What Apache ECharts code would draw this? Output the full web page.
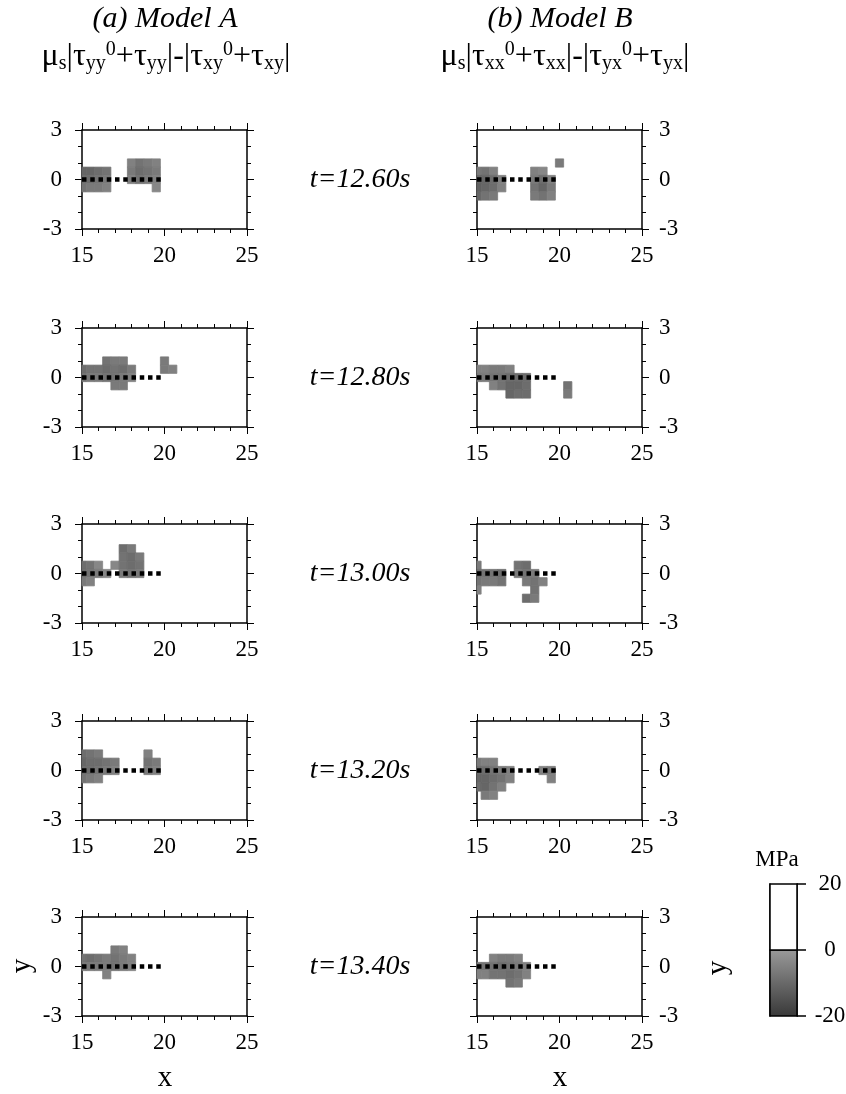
<!DOCTYPE html>
<html>
<head>
<meta charset="utf-8">
<script src="https://cdn.jsdelivr.net/npm/echarts@6/dist/echarts.min.js"></script>
<style>html,body{margin:0;padding:0;background:#fff}#c{width:846px;height:1094px}</style>
</head>
<body>
<div id="c"></div>
<script>
// ---------- data ----------
const xTicks = [15, 20, 25];
const yTicks = [-3, 0, 3];
const times = ['t=12.60s', 't=12.80s', 't=13.00s', 't=13.20s', 't=13.40s'];
const faultLine = [[15, 0], [20, 0]];
const cbBands = [[-20, 0], [0, 20]];
const cbTicks = [-20, 0, 20];

// cells: [x centre, y centre, stress change (MPa)]
const a1260 = [
 [15,0.5,-13],[15.5,0.5,-13],[16,0.5,-12],[16.5,0.5,-11],
 [15,0,-12],[15.5,0,-12],[16,0,-11],[16.5,0,-10],
 [15,-0.5,-11],[15.5,-0.5,-10],[16,-0.5,-10],[16.5,-0.5,-9],
 [18,1,-9],[18.5,1,-11],[19,1,-10],[19.5,1,-9],
 [18,0.5,-10],[18.5,0.5,-12],[19,0.5,-11],[19.5,0.5,-10],
 [18,0,-9],[18.5,0,-11],[19,0,-10],[19.5,0,-9],
 [19.5,-0.5,-8]
];
const b1260 = [
 [15,0.5,-10],[15.5,0.5,-11],[16,0.5,-9],
 [15,0,-13],[15.5,0,-13],[16,0,-12],[16.5,0,-9],
 [15,-0.5,-14],[15.5,-0.5,-13],[16,-0.5,-12],[16.5,-0.5,-9],
 [15,-1,-13],[15.5,-1,-11],[16,-1,-10],
 [18.5,0.5,-9],[19,0.5,-8],
 [18.5,0,-10],[19,0,-12],[19.5,0,-9],
 [18.5,-0.5,-11],[19,-0.5,-13],[19.5,-0.5,-10],
 [18.5,-1,-10],[19,-1,-11],[19.5,-1,-9],
 [20,1,-10]
];
const a1280 = [
 [16.5,1,-11],[17,1,-10],[17.5,1,-10],
 [15,0.5,-12],[15.5,0.5,-11],[16,0.5,-11],[16.5,0.5,-12],[17,0.5,-11],[17.5,0.5,-12],[18,0.5,-10],
 [15,0,-11],[15.5,0,-10],[16,0,-10],[16.5,0,-11],[17,0,-11],[17.5,0,-10],[18,0,-9],
 [17,-0.5,-10],[17.5,-0.5,-10],
 [20,1,-10],[20,0.5,-10],[20.5,0.5,-9]
];
const b1280 = [
 [15,0.5,-9],[15.5,0.5,-9],[16,0.5,-10],[16.5,0.5,-10],[17,0.5,-9],
 [15,0,-10],[15.5,0,-10],[16,0,-11],[16.5,0,-11],[17,0,-12],[17.5,0,-12],[18,0,-12],
 [16,-0.5,-9],[16.5,-0.5,-11],[17,-0.5,-13],[17.5,-0.5,-13],[18,-0.5,-12],
 [17,-1,-13],[17.5,-1,-12],[18,-1,-12],
 [20.5,-0.5,-11],[20.5,-1,-10]
];
const a1300 = [
 [17.5,1.5,-12],[18,1.5,-10],
 [17.5,1,-11],[18,1,-12],[18.5,1,-10],
 [17,0.5,-8],[17.5,0.5,-11],[18,0.5,-12],[18.5,0.5,-11],
 [17.5,0,-10],[18,0,-11],[18.5,0,-10],
 [15,0.5,-12],[15.5,0.5,-11],[16,0.5,-8],
 [15,0,-12],[15.5,0,-11],[16,0,-10],[16.5,0,-8],
 [15,-0.5,-10],[15.5,-0.5,-9]
];
const b1300 = [
 [15,0.5,-10],
 [15,0,-12],[15.5,0,-11],[16,0,-11],[16.5,0,-12],
 [15,-0.5,-11],[15.5,-0.5,-10],[16,-0.5,-10],[16.5,-0.5,-11],
 [15,-1,-9],
 [17.5,0.5,-11],[18,0.5,-12],
 [17.5,0,-10],[18,0,-11],[18.5,0,-10],
 [18,-0.5,-10],[18.5,-0.5,-11],[19,-0.5,-9],
 [18.5,-1,-11],
 [18,-1.5,-12],[18.5,-1.5,-10]
];
const a1320 = [
 [15,1,-12],[15.5,1,-11],[16,1,-10],
 [15,0.5,-13],[15.5,0.5,-12],[16,0.5,-12],[16.5,0.5,-11],[17,0.5,-10],
 [15,0,-12],[15.5,0,-12],[16,0,-11],[16.5,0,-10],[17,0,-9],
 [15,-0.5,-11],[15.5,-0.5,-10],[16,-0.5,-9],
 [19,1,-9],
 [19,0.5,-11],[19.5,0.5,-10],
 [19,0,-10],[19.5,0,-9]
];
const b1320 = [
 [15,0.5,-10],[15.5,0.5,-9],[16,0.5,-9],
 [15,0,-12],[15.5,0,-12],[16,0,-11],[16.5,0,-10],[17,0,-9],
 [15,-0.5,-13],[15.5,-0.5,-13],[16,-0.5,-12],[16.5,-0.5,-11],[17,-0.5,-9],
 [15,-1,-12],[15.5,-1,-13],[16,-1,-11],[16.5,-1,-9],
 [15.5,-1.5,-10],[16,-1.5,-9],
 [19,0,-9],[19.5,0,-10],[19.5,-0.5,-9]
];
const a1340 = [
 [17,1,-10],[17.5,1,-9],
 [15,0.5,-11],[15.5,0.5,-12],[16,0.5,-11],[16.5,0.5,-10],[17,0.5,-11],[17.5,0.5,-10],[18,0.5,-9],
 [15,0,-10],[15.5,0,-10],[16,0,-10],[16.5,0,-10],[17,0,-11],[17.5,0,-10],[18,0,-9],
 [16.5,-0.5,-9]
];
const b1340 = [
 [16,0.5,-9],[16.5,0.5,-10],[17,0.5,-10],[17.5,0.5,-9],
 [15,0,-10],[15.5,0,-11],[16,0,-11],[16.5,0,-12],[17,0,-11],[17.5,0,-10],[18,0,-9],
 [15,-0.5,-9],[15.5,-0.5,-9],[16,-0.5,-11],[16.5,-0.5,-11],[17,-0.5,-12],[17.5,-0.5,-11],[18,-0.5,-9],
 [17,-1,-11],[17.5,-1,-10]
];
const modelA = [a1260, a1280, a1300, a1320, a1340];
const modelB = [b1260, b1280, b1300, b1320, b1340];

// ---------- layout / style ----------
const SERIF = '"Liberation Serif","DejaVu Serif",serif';
const GRAYS = ['#383838', '#bcbcbc'];
const HALF = 0.25; // half cell width in data units
const rowTops = [130, 328, 524, 721, 917];
const colLefts = [82, 477];
const PW = 165, PH = 99;
const NUM = 23;

const chart = echarts.init(document.getElementById('c'), null, {renderer: 'canvas'});

const grids = [], xAxes = [], yAxes = [], series = [], cellSeriesIdx = [];
const lineStyle = {color: '#000', width: 1.5};
function xAx(gi, pos, labels) {
  return {
    type: 'value', gridIndex: gi, position: pos, min: xTicks[0], max: xTicks[xTicks.length - 1],
    interval: xTicks[1] - xTicks[0],
    axisLine: {show: true, onZero: false, lineStyle},
    axisTick: {show: true, length: 7, lineStyle: {color: '#000', width: 1}},
    minorTick: {show: true, splitNumber: 5, length: 4, lineStyle: {color: '#000', width: 1}},
    splitLine: {show: false},
    axisLabel: {show: labels, fontFamily: SERIF, fontSize: NUM, color: '#000', margin: 15}
  };
}
function yAx(gi, pos, labels) {
  return {
    type: 'value', gridIndex: gi, position: pos, min: yTicks[0], max: yTicks[yTicks.length - 1],
    interval: yTicks[1] - yTicks[0],
    axisLine: {show: true, onZero: false, lineStyle},
    axisTick: {show: true, length: 7, lineStyle: {color: '#000', width: 1}},
    minorTick: {show: true, splitNumber: 3, length: 4, lineStyle: {color: '#000', width: 1}},
    splitLine: {show: false},
    axisLabel: {show: labels, fontFamily: SERIF, fontSize: NUM, color: '#000', margin: pos === 'left' ? 20 : 17}
  };
}
function renderCell(params, api) {
  const x = api.value(0), y = api.value(1);
  const p0 = api.coord([x - HALF, y + HALF]);
  const p1 = api.coord([x + HALF, y - HALF]);
  const cs = params.coordSys;
  const r = echarts.graphic.clipRectByRect(
    {x: p0[0], y: p0[1], width: p1[0] - p0[0], height: p1[1] - p0[1]},
    {x: cs.x, y: cs.y, width: cs.width, height: cs.height});
  const c = api.visual('color');
  return r && {type: 'rect', shape: r, style: {fill: c, stroke: c, lineWidth: 0.8}};
}

let gi = 0;
for (let row = 0; row < 5; row++) {
  for (let col = 0; col < 2; col++) {
    const data = col === 0 ? modelA[row] : modelB[row];
    grids.push({left: colLefts[col], top: rowTops[row], width: PW, height: PH, outerBoundsMode: 'none', containLabel: false});
    xAxes.push(xAx(gi, 'bottom', true));
    xAxes.push(xAx(gi, 'top', false));
    yAxes.push(yAx(gi, 'left', col === 0));
    yAxes.push(yAx(gi, 'right', col === 1));
    cellSeriesIdx.push(series.length);
    series.push({
      type: 'custom', xAxisIndex: 2 * gi, yAxisIndex: 2 * gi,
      renderItem: renderCell, data: data, encode: {x: 0, y: 1}, silent: true, z: 2
    });
    series.push({
      type: 'line', xAxisIndex: 2 * gi, yAxisIndex: 2 * gi, data: faultLine,
      symbol: 'none', silent: true, z: 3, animation: false,
      lineStyle: {color: '#000', width: 4.5, type: [4.5, 3.75], cap: 'butt'}
    });
    gi++;
  }
}

// colour bar
const cbGi = gi;
grids.push({left: 770, top: 884, width: 27, height: 132, outerBoundsMode: 'none', containLabel: false});
xAxes.push({type: 'value', gridIndex: cbGi, min: 0, max: 1, show: false});
xAxes.push({type: 'value', gridIndex: cbGi, min: 0, max: 1, show: false});
yAxes.push({type: 'value', gridIndex: cbGi, position: 'left', min: cbTicks[0], max: cbTicks[2], interval: 20,
  axisLine: {show: true, onZero: false, lineStyle}, axisTick: {show: false}, axisLabel: {show: false}, splitLine: {show: false}});
yAxes.push({type: 'value', gridIndex: cbGi, position: 'right', min: cbTicks[0], max: cbTicks[2], interval: 20,
  axisLine: {show: true, onZero: false, lineStyle},
  axisTick: {show: true, length: 9, lineStyle: {color: '#000', width: 1.5}},
  splitLine: {show: false},
  axisLabel: {fontFamily: SERIF, fontSize: NUM, color: '#000', margin: 33, align: 'center'}});
series.push({
  type: 'custom', xAxisIndex: 2 * cbGi, yAxisIndex: 2 * cbGi, data: cbBands, silent: true,
  encode: {y: [0, 1]},
  renderItem: function (params, api) {
    const lo = api.value(0), hi = api.value(1);
    const p0 = api.coord([0, hi]), p1 = api.coord([1, lo]);
    const fill = lo < 0 ? new echarts.graphic.LinearGradient(0, 0, 0, 1, [
      {offset: 0, color: '#9a9a9a'}, {offset: 1, color: GRAYS[0]}]) : '#fff';
    return {type: 'rect', shape: {x: p0[0], y: p0[1], width: p1[0] - p0[0], height: p1[1] - p0[1]},
      style: {fill: fill, stroke: '#000', lineWidth: 1.5}};
  }
});

// texts
const T = (text, x, y, size, extra) => Object.assign({
  type: 'text', x: x, y: y, silent: true,
  style: {text: text, font: (extra && extra.italic ? 'italic ' : '') + size + 'px ' + SERIF,
    fill: '#000', align: 'center', verticalAlign: 'middle'}
}, extra && extra.rotation ? {rotation: extra.rotation} : {});

const richStyles = {
  n: {fontFamily: SERIF, fontSize: 32, lineHeight: 34, verticalAlign: 'middle'},
  sub: {fontFamily: SERIF, fontSize: 20, lineHeight: 18, verticalAlign: 'bottom'},
  sup: {fontFamily: SERIF, fontSize: 20, lineHeight: 20, verticalAlign: 'top'}
};
function formula(a, b, x) {
  return {
    type: 'text', x: x, y: 57, silent: true,
    style: {
      text: '{n|μ}{sub|s}{n||τ}{sub|' + a + '}{sup|0}{n|+τ}{sub|' + a + '}{n||-|τ}{sub|' + b + '}{sup|0}{n|+τ}{sub|' + b + '}{n||}',
      align: 'center', verticalAlign: 'middle', fill: '#000', rich: richStyles
    }
  };
}

const graphics = [
  T('(a) Model A', 165, 19, 30, {italic: true}),
  T('(b) Model B', 560, 19, 30, {italic: true}),
  formula('yy', 'xy', 166),
  formula('xx', 'yx', 565),
  T('x', 165, 1078, 29),
  T('x', 560, 1078, 29),
  T('y', 22, 966, 29, {rotation: Math.PI / 2}),
  T('y', 718, 968, 29, {rotation: Math.PI / 2}),
  T('MPa', 777, 860, 23)
];
times.forEach((t, i) => graphics.push(T(t, 360, rowTops[i] + PH / 2, 28, {italic: true})));

chart.setOption({
  animation: false,
  backgroundColor: '#fff',
  grid: grids,
  xAxis: xAxes,
  yAxis: yAxes,
  visualMap: {show: false, type: 'continuous', min: -20, max: 0, dimension: 2,
    seriesIndex: cellSeriesIdx, inRange: {color: GRAYS}},
  series: series,
  graphic: graphics
});
</script>
</body>
</html>
